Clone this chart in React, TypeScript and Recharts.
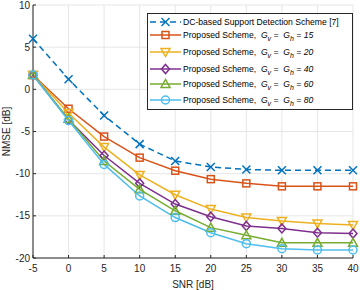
import React from 'react';
import { LineChart, Line, XAxis, YAxis, CartesianGrid, Legend } from 'recharts';

const snr = [-5, 0, 5, 10, 15, 20, 25, 30, 35, 40];
const dcBased = [6.0, 1.2, -3.1, -6.5, -8.5, -9.2, -9.5, -9.6, -9.6, -9.6];
const g15 = [1.7, -2.3, -5.6, -8.1, -9.65, -10.65, -11.15, -11.5, -11.5, -11.5];
const g20 = [1.7, -2.8, -6.85, -10.15, -12.5, -14.2, -15.2, -15.6, -15.9, -16.1];
const g40 = [1.7, -3.6, -7.85, -11.15, -13.6, -15.1, -16.2, -16.5, -17.0, -17.1];
const g60 = [1.7, -3.5, -8.5, -11.85, -14.4, -16.4, -17.3, -18.2, -18.2, -18.2];
const g80 = [1.7, -3.7, -8.9, -12.65, -15.2, -17.0, -18.3, -18.9, -19.05, -19.05];
const xTicks = [-5, 0, 5, 10, 15, 20, 25, 30, 35, 40];
const yTicks = [-20, -15, -10, -5, 0, 5, 10];

const data = snr.map((s, i) => ({
  snr: s,
  dc: dcBased[i],
  g15: g15[i],
  g20: g20[i],
  g40: g40[i],
  g60: g60[i],
  g80: g80[i],
}));

type Shape = 'x' | 'square' | 'down' | 'diamond' | 'up' | 'circle';

const marker = (shape: Shape, color: string, cx: number, cy: number, key?: any) => {
  const sw = 1.5;
  const s = 4;
  switch (shape) {
    case 'x':
      return (
        <g key={key}>
          <line x1={cx - s} y1={cy - s} x2={cx + s} y2={cy + s} stroke={color} strokeWidth={sw} />
          <line x1={cx - s} y1={cy + s} x2={cx + s} y2={cy - s} stroke={color} strokeWidth={sw} />
        </g>
      );
    case 'square':
      return <rect key={key} x={cx - 3.5} y={cy - 3.5} width={7} height={7} fill="none" stroke={color} strokeWidth={sw} />;
    case 'down':
      return <polygon key={key} points={`${cx - 4.5},${cy - 3.5} ${cx + 4.5},${cy - 3.5} ${cx},${cy + 4.5}`} fill="none" stroke={color} strokeWidth={sw} />;
    case 'up':
      return <polygon key={key} points={`${cx - 4.5},${cy + 3.5} ${cx + 4.5},${cy + 3.5} ${cx},${cy - 4.5}`} fill="none" stroke={color} strokeWidth={sw} />;
    case 'diamond':
      return <polygon key={key} points={`${cx},${cy - 4.5} ${cx + 4},${cy} ${cx},${cy + 4.5} ${cx - 4},${cy}`} fill="none" stroke={color} strokeWidth={sw} />;
    case 'circle':
    default:
      return <circle key={key} cx={cx} cy={cy} r={4} fill="none" stroke={color} strokeWidth={sw} />;
  }
};

const makeDot = (shape: Shape, color: string) => (props: any) => {
  const { cx, cy, index } = props;
  if (cx == null || cy == null) return <g key={`e${index}`} />;
  return marker(shape, color, cx, cy, `d${index}`);
};

const series = [
  { key: 'dc', color: '#0072BD', shape: 'x' as Shape, dashed: true, g: '' },
  { key: 'g15', color: '#D95319', shape: 'square' as Shape, dashed: false, g: '15' },
  { key: 'g20', color: '#EDB120', shape: 'down' as Shape, dashed: false, g: '20' },
  { key: 'g40', color: '#7E2F8E', shape: 'diamond' as Shape, dashed: false, g: '40' },
  { key: 'g60', color: '#77AC30', shape: 'up' as Shape, dashed: false, g: '60' },
  { key: 'g80', color: '#4DBEEE', shape: 'circle' as Shape, dashed: false, g: '80' },
];

const rowY = [8, 21, 38, 55, 70, 86];

const renderLegend = () => (
  <div
    style={{
      position: 'relative',
      width: 206,
      height: 97,
      boxSizing: 'border-box',
      border: '1px solid #262626',
      background: '#fff',
      fontFamily: '"Liberation Sans", Arial, sans-serif',
      fontSize: 8.6,
      color: '#000',
    }}
  >
    {series.map((s, i) => (
      <div key={s.key} style={{ position: 'absolute', left: 0, top: rowY[i] - 7, height: 14, width: 206 }}>
        <svg width={34} height={14} style={{ position: 'absolute', left: 1, top: 0 }}>
          <line x1={1} y1={7} x2={32} y2={7} stroke={s.color} strokeWidth={1.5} strokeDasharray={s.dashed ? '6 4' : undefined} />
          {marker(s.shape, s.color, 16.5, 7)}
        </svg>
        <div style={{ position: 'absolute', left: 35, top: 1, whiteSpace: 'nowrap', lineHeight: '12px' }}>
          {s.dashed ? (
            'DC-based Support Detection Scheme [7]'
          ) : (
            <span>
              Proposed Scheme,&nbsp;&nbsp;
              <i>
                G<sub style={{ fontSize: 7, verticalAlign: -3 }}>v</sub> = &nbsp;G<sub style={{ fontSize: 7, verticalAlign: -3 }}>h</sub> = {s.g}
              </i>
            </span>
          )}
        </div>
      </div>
    ))}
  </div>
);

const tickStyle = { fill: '#262626', fontSize: 10, fontFamily: '"Liberation Sans", Arial, sans-serif' };

export default function App() {
  return (
    <div style={{ position: 'absolute', left: 0, top: 0, width: 360, height: 290, background: '#fff' }}>
      <LineChart width={360} height={290} data={data} margin={{ top: 5, right: 7, bottom: 0, left: 0 }}>
        <CartesianGrid stroke="#e6e6e6" strokeWidth={1} horizontalValues={yTicks} verticalValues={xTicks} />
        <XAxis
          dataKey="snr"
          type="number"
          domain={[-5, 40]}
          ticks={xTicks}
          height={32}
          tickSize={-3}
          tickMargin={10}
          stroke="#262626"
          tick={tickStyle}
          interval={0}
          label={{ value: 'SNR [dB]', position: 'insideBottom', offset: 2, style: { fill: '#262626', fontSize: 10, fontFamily: '"Liberation Sans", Arial, sans-serif' } }}
        />
        <XAxis
          xAxisId="top"
          orientation="top"
          dataKey="snr"
          type="number"
          domain={[-5, 40]}
          ticks={xTicks}
          height={0}
          tickSize={-3}
          stroke="#262626"
          tickFormatter={() => ''}
        />
        <YAxis
          type="number"
          domain={[-20, 10]}
          ticks={yTicks}
          width={33}
          tickSize={-3}
          tickMargin={6}
          stroke="#262626"
          tick={tickStyle}
          interval={0}
          label={{ value: 'NMSE [dB]', angle: -90, position: 'insideLeft', offset: 6, style: { textAnchor: 'middle', fill: '#262626', fontSize: 10, fontFamily: '"Liberation Sans", Arial, sans-serif' } }}
        />
        <YAxis
          yAxisId="right"
          orientation="right"
          type="number"
          domain={[-20, 10]}
          ticks={yTicks}
          width={0}
          tickSize={-3}
          stroke="#262626"
          tickFormatter={() => ''}
        />
        {series.map((s) => (
          <Line
            key={s.key}
            dataKey={s.key}
            stroke={s.color}
            strokeWidth={1.5}
            strokeDasharray={s.dashed ? '6 4' : undefined}
            dot={makeDot(s.shape, s.color)}
            activeDot={false}
            isAnimationActive={false}
            type="linear"
          />
        ))}
        <Legend
          content={renderLegend}
          layout="horizontal"
          verticalAlign="middle"
          align="center"
          wrapperStyle={{ position: 'absolute', left: 147, top: 13, width: 206, height: 97 }}
        />
      </LineChart>
    </div>
  );
}
